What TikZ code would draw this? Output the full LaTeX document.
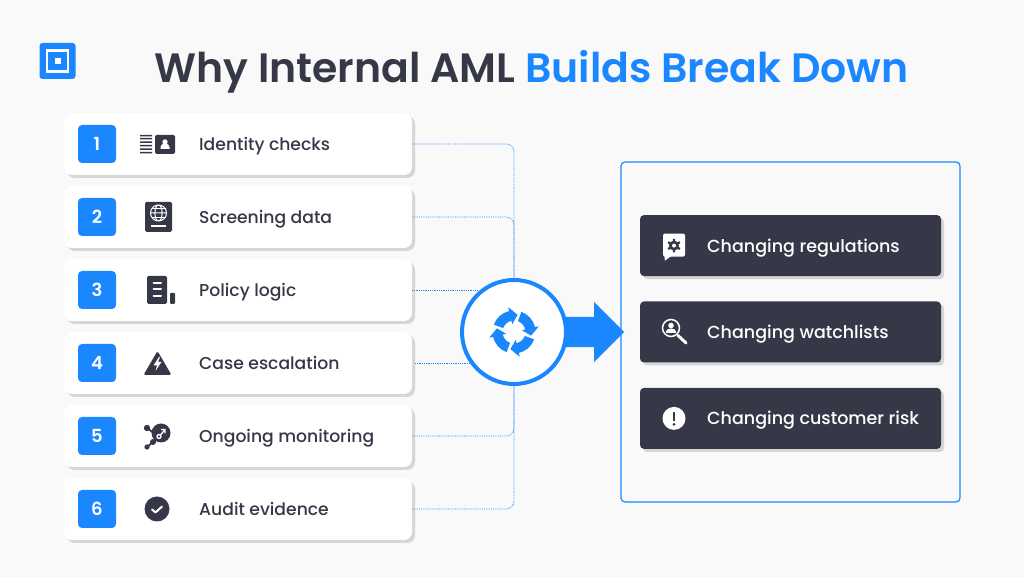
\documentclass[tikz,border=0pt]{standalone}
\usepackage{fontspec}
\setmainfont{Poppins Medium}[BoldFont=Poppins SemiBold]
\usepackage{tikz}
\usetikzlibrary{positioning,shadows,shapes.arrows}
\definecolor{pagebg}{HTML}{F9F9FA}
\definecolor{inkdark}{HTML}{363848}
\definecolor{brandblue}{HTML}{1A87FF}
\definecolor{shadegray}{HTML}{D6D6D8}

\tikzset{
  idicon/.pic={
    \fill[inkdark] (-17,-9.5) rectangle (-5,-8) (-17,-6) rectangle (-5,-4.5) (-17,-2.5) rectangle (-5,-1) (-17,1) rectangle (-5,2.5) (-17,4.5) rectangle (-5,6) (-17,7.5) rectangle (-5,9);
    \fill[inkdark,rounded corners=1.5pt] (-2,-10) rectangle (18,9);
    \fill[white] (8,2) circle (2.7);
    \fill[white] (3.5,-5) -- (12.5,-5) -- (12.5,-3) arc (0:180:4.5 and 3.5) -- cycle;
  },
  passporticon/.pic={
    \fill[inkdark,rounded corners=1.5pt] (-13.5,-15) rectangle (13.5,15);
    \draw[white,line width=1pt] (0,4) circle (8) (-8,4) -- (8,4) (0,4) ellipse (3.6 and 8);
    \draw[white,line width=.8pt] (-7,8.5) -- (7,8.5) (-7,-.5) -- (7,-.5);
    \fill[white] (-8,-10) rectangle (7,-8);
  },
  policyicon/.pic={
    \fill[inkdark,rounded corners=1.5pt] (-14,-14) rectangle (6,14);
    \fill[inkdark,rounded corners=1pt] (9,-14) rectangle (14,-3);
    \draw[white,line width=2pt,line cap=round] (-7.5,7) -- (0,7) (-7.5,.5) -- (0,.5) (-7.5,-6) -- (0,-6);
  },
  alerticon/.pic={
    \fill[inkdark,rounded corners=1.5pt] (0,12) -- (14,-12) -- (-14,-12) -- cycle;
    \fill[white] (1.5,6) -- (-4,-2.5) -- (-.5,-2.5) -- (-2,-8) -- (4,1) -- (.5,1) -- (2.5,6) -- cycle;
  },
  monitoricon/.pic={
    \fill[inkdark] (4,3) circle (9.5);
    \draw[inkdark,line width=1.8pt] (-10,8) -- (2,-1) (-10,-11) -- (2,-1);
    \fill[inkdark] (-10,8) circle (3.2) (-4,-6) circle (3) (-10,-11) circle (2.6);
    \draw[white,line width=1.3pt] (2,-.5) circle (2) (3.5,1) -- (8,6.5) (4,6.5) -- (8,6.5) -- (8,2.5);
  },
  checkicon/.pic={
    \fill[inkdark] (0,0) circle (12.5);
    \draw[white,line width=2pt,line cap=round,line join=round] (-5,-.5) -- (-1.5,-3.5) -- (5,2.5);
  },
  bubbleicon/.pic={
    \fill[white,rounded corners=2pt] (-11,-11) rectangle (11,12);
    \fill[white] (-10,-8) -- (-9,-15) -- (-2,-10) -- cycle;
    \fill[inkdark] (0,0) circle (5);
    \draw[inkdark,line width=2.2pt] (0,-6.8) -- (0,6.8) (-5.9,-3.4) -- (5.9,3.4) (-5.9,3.4) -- (5.9,-3.4);
    \fill[white] (0,0) circle (2);
  },
  searchicon/.pic={
    \draw[white,line width=1.5pt] (0,4) circle (8.5);
    \fill[white] (0,6.5) circle (2.8);
    \fill[white] (-5,-1) -- (5,-1) -- (5,.5) arc (0:180:5 and 3) -- cycle;
    \draw[white,line width=3pt,line cap=round] (7,-3.5) -- (15,-11);
  },
  warnicon/.pic={
    \fill[white] (0,0) circle (11.5);
    \fill[inkdark] (-1.3,-3) rectangle (1.3,6.5);
    \fill[inkdark] (0,-6) circle (1.5);
  },
  turnarrow/.pic={
    \fill[brandblue] (160:21.5) arc (160:103:21.5) -- (103:25.5) -- (78:17.5) -- (103:8) -- (103:11.5) arc (103:160:11.5) -- cycle;
  }
}

\begin{document}
\begin{tikzpicture} [x=1pt, y=1pt, node distance=11pt,
                    card/.style={fill=white,rounded corners=8pt,minimum width=348pt,minimum height=62pt,outer sep=0pt,
                      drop shadow={shadow xshift=3pt,shadow yshift=-3pt,fill=shadegray,opacity=1}},
                    badge/.style={fill=brandblue,rounded corners=4pt,minimum size=38pt,inner sep=0pt,outer sep=0pt,
                      text=white,font=\fontsize{18}{18}\selectfont\bfseries},
                    cardtext/.style={inner sep=0pt,text=inkdark,text height=18pt,text depth=5pt,font=\fontsize{17.2}{18}\selectfont},
                    bar/.style={fill=inkdark,rounded corners=4pt,minimum width=301pt,minimum height=61pt,outer sep=0pt,
                      drop shadow={shadow xshift=3pt,shadow yshift=-3pt,fill=shadegray,opacity=1}},
                    bartext/.style={inner sep=0pt,text=white,text height=18pt,text depth=5pt,font=\fontsize{17.5}{18}\selectfont},
                    link/.style={draw=brandblue,line width=.8pt,densely dotted,rounded corners=8pt}]

\fill[pagebg] (0,0) rectangle (1024,577);

\node[fill=brandblue,rounded corners=3pt,minimum size=36pt,inner sep=0pt] (LOGO) at (57.5,516) {};
\node[draw=white,line width=2.6pt,minimum size=21pt,inner sep=0pt] (LOGOA) at (LOGO) {};
\node[fill=white,minimum size=6pt,inner sep=0pt] (LOGOB) at (LOGO) {};

\node[text=inkdark,inner sep=0pt,font=\fontsize{41}{41}\selectfont\bfseries] (TITLE) at (531.5,505)
  {Why Internal AML \textcolor{brandblue}{Builds Break Down}};

\node[card] (C1) at (238,433) {};
\node[card] (C2) [below=of C1] {};
\node[card] (C3) [below=of C2] {};
\node[card] (C4) [below=of C3] {};
\node[card] (C5) [below=of C4] {};
\node[card] (C6) [below=of C5] {};

\node[badge] (N1) [right=14pt of C1.west] {1};
\node[badge] (N2) [right=14pt of C2.west] {2};
\node[badge] (N3) [right=14pt of C3.west] {3};
\node[badge] (N4) [right=14pt of C4.west] {4};
\node[badge] (N5) [right=14pt of C5.west] {5};
\node[badge] (N6) [right=14pt of C6.west] {6};

\node[cardtext] (T1) [right=135pt of C1.west] {Identity checks};
\node[cardtext] (T2) [right=135pt of C2.west] {Screening data};
\node[cardtext] (T3) [right=135pt of C3.west] {Policy logic};
\node[cardtext] (T4) [right=135pt of C4.west] {Case escalation};
\node[cardtext] (T5) [right=135pt of C5.west] {Ongoing monitoring};
\node[cardtext] (T6) [right=135pt of C6.west] {Audit evidence};

\coordinate[right=93pt of C1.west] (I1);
\coordinate[right=94.5pt of C2.west] (I2);
\coordinate[right=97pt of C3.west] (I3);
\coordinate[right=93.5pt of C4.west] (I4);
\coordinate[right=93pt of C5.west] (I5);
\coordinate[right=93pt of C6.west] (I6);
\pic at (I1) {idicon};
\pic at (I2) {passporticon};
\pic at (I3) {policyicon};
\pic at (I4) {alerticon};
\pic at (I5) {monitoricon};
\pic at (I6) {checkicon};

\node[circle,draw=brandblue,fill=white,line width=4pt,minimum size=104pt,inner sep=0pt] (HUB) at (514,245) {};
\pic at (HUB) {turnarrow};
\pic[rotate=-90] at (HUB) {turnarrow};
\pic[rotate=-180] at (HUB) {turnarrow};
\pic[rotate=-270] at (HUB) {turnarrow};

\node[single arrow,fill=brandblue,inner sep=0pt,minimum width=60pt,minimum height=58pt,text height=30pt,
      single arrow head extend=15pt,single arrow head indent=0pt] (ARROW) [right=-2pt of HUB] {};

\node[draw=brandblue,line width=1.2pt,rounded corners=4pt,minimum width=339pt,minimum height=340pt] (PANEL) at (790.5,245) {};

\node[bar] (R2) at (PANEL) {};
\node[bar] (R1) [above=25.4pt of R2] {};
\node[bar] (R3) [below=25.4pt of R2] {};

\node[bartext] (S1) [right=67pt of R1.west] {Changing regulations};
\node[bartext] (S2) [right=67pt of R2.west] {Changing watchlists};
\node[bartext] (S3) [right=67pt of R3.west] {Changing customer risk};

\coordinate[right=34pt of R1.west] (J1);
\coordinate[right=31pt of R2.west] (J2);
\coordinate[right=34pt of R3.west] (J3);
\pic at (J1) {bubbleicon};
\pic at (J2) {searchicon};
\pic at (J3) {warnicon};

\path[link] (C1.east) -| (HUB.north);
\path[link] (C2.east) -| (HUB.north);
\path[link] (C3.east) -- (C3.east -| HUB.131);
\path[link] ([xshift=3pt]C4.east) -- (C4.east -| HUB.216);
\path[link] (C5.east) -| (HUB.south);
\path[link] (C6.east) -| (HUB.south);
\end{tikzpicture}
\end{document}
